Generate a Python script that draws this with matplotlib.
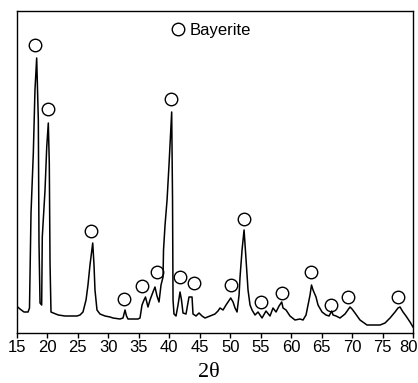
import matplotlib
matplotlib.use("Agg")
import matplotlib.pyplot as plt
from matplotlib.lines import Line2D
from matplotlib.transforms import ScaledTranslation

two_theta = [15.11, 15.49, 16.15, 16.81, 17.05, 17.13, 17.30, 17.68, 17.95, 18.23,
             18.50, 18.61, 18.78, 19.05, 19.15, 19.60, 19.88, 20.14, 20.30, 20.42,
             20.58, 20.96, 21.78, 22.88, 24.19, 24.85, 25.34, 25.83, 26.33, 26.65,
             26.98, 27.43, 27.64, 27.80, 28.13, 28.62, 29.45, 30.27, 30.76, 31.91,
             32.40, 32.73, 32.97, 33.22, 34.04, 34.86, 35.19, 35.52, 35.85, 36.09,
             36.50, 36.83, 37.32, 37.65, 37.98, 38.31, 38.64, 38.97, 39.05, 39.30,
             39.63, 39.95, 40.20, 40.39, 40.53, 40.61, 40.77, 41.10, 41.43, 41.76,
             42.00, 42.25, 42.74, 43.23, 43.73, 43.89, 44.38, 44.88, 45.37, 45.86,
             46.68, 47.50, 47.99, 48.32, 48.82, 49.31, 49.64, 50.08, 50.46, 50.79,
             51.12, 51.45, 51.61, 51.94, 52.27, 52.44, 52.60, 52.92, 53.25, 53.58,
             54.07, 54.56, 55.22, 55.87, 56.53, 57.02, 57.52, 58.01, 58.45, 58.67,
             59.16, 59.81, 60.63, 61.45, 61.95, 62.44, 62.77, 63.10, 63.34, 63.59,
             64.08, 64.41, 65.07, 65.72, 66.22, 66.66, 66.87, 67.37, 68.02, 68.84,
             69.66, 69.99, 70.48, 71.30, 72.45, 73.77, 74.59, 75.41, 76.23, 77.05,
             77.54, 77.87, 78.36, 78.85, 79.51, 80.00]
intensity = [26, 24, 21, 21, 25, 56, 120, 180, 243, 275,
             213, 90, 30, 28, 96, 143, 186, 210, 170, 70,
             21, 20, 18, 17, 17, 17, 18, 21, 33, 48,
             68, 90, 68, 43, 23, 19, 17, 16, 15, 14,
             15, 23, 17, 14, 14, 14, 15, 28, 33, 36,
             26, 33, 41, 46, 37, 31, 48, 56, 83, 108,
             133, 168, 198, 221, 133, 33, 19, 17, 28, 41,
             33, 20, 19, 36, 36, 19, 17, 20, 17, 15,
             17, 19, 22, 25, 23, 28, 31, 35, 31, 25,
             21, 38, 56, 83, 103, 88, 73, 43, 28, 23,
             18, 21, 15, 22, 17, 25, 21, 27, 31, 25,
             23, 17, 13, 14, 13, 18, 28, 38, 48, 43,
             36, 28, 21, 18, 17, 22, 18, 17, 15, 19,
             26, 24, 20, 13, 8, 8, 8, 10, 15, 21,
             25, 26, 21, 17, 11, 6]

marker_theta = [17.95, 20.04, 27.15, 32.61, 35.47, 37.93, 40.28, 41.76, 44.05,
                50.08, 52.26, 55.00, 58.45, 63.26, 66.54, 69.28, 77.59]
marker_int = [288, 224, 102, 34, 47, 61, 234, 56, 50,
              48, 114, 31, 40, 61, 28, 36, 36]

xticks = [15, 20, 25, 30, 35, 40, 45, 50, 55, 60, 65, 70, 75, 80]
legend_label = "Bayerite"
xlabel = "2θ"

fig = plt.figure(figsize=(4.18, 3.83), dpi=100)
ax = fig.add_axes([17/418, 1-333/383, 396/418, 322/383])
ax.plot(two_theta, intensity, color="black", lw=1.1)
ax.plot(marker_theta, marker_int, linestyle="none", marker="o", ms=9,
        mfc="none", mec="black", mew=1.0)
ax.set_xlim(15, 80)
ax.set_ylim(0, 322)
ax.set_xticks(xticks)
ax.set_xticklabels([str(t) for t in xticks], fontsize=12, family="Liberation Sans")
ax.set_yticks([])
ax.tick_params(axis="x", direction="out", length=3.5, width=1, pad=1.5)
for s in ax.spines.values():
    s.set_linewidth(1.0)

# nudge last tick label so it stays inside the figure
last = ax.get_xticklabels()[-1]
last.set_transform(last.get_transform() + ScaledTranslation(-4/100, 0, fig.dpi_scale_trans))

ax.set_xlabel(xlabel, fontsize=16, family="Liberation Serif")
ax.xaxis.label.set_va("baseline")
ax.xaxis.set_label_coords((209-17)/396, (333-377)/322)

handle = Line2D([], [], linestyle="none", marker="o", ms=9, mfc="none",
                mec="black", mew=1.0)
ax.legend([handle], [legend_label], loc="center left",
          bbox_to_anchor=(0.385, 0.94), frameon=False, handlelength=1.0,
          handletextpad=0.2, borderpad=0, borderaxespad=0,
          prop={"family": "Liberation Sans", "size": 12})

fig.savefig("out.png", dpi=100)
